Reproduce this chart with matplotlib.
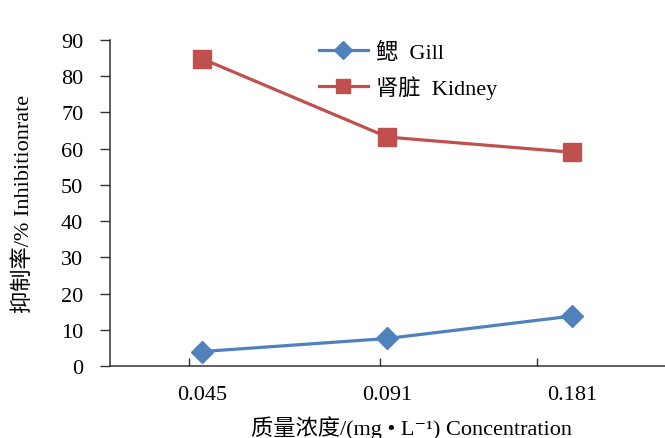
import numpy as np
import matplotlib.pyplot as plt

# concentration categories (mg/L) and inhibition rates (%)
concentrations = ["0.045", "0.091", "0.181"]
gill = [4.0, 7.6, 13.8]
kidney = [84.8, 63.2, 59.0]
y_ticks = [0, 10, 20, 30, 40, 50, 60, 70, 80, 90]

plt.rcParams["font.family"] = ["Liberation Serif", "Noto Sans CJK SC", "DejaVu Serif"]

fig = plt.figure(figsize=(6.65, 4.39), dpi=100)
ax = fig.add_axes([0.1654, 0.164, 0.8346, 0.7426])

x = np.arange(len(concentrations))
ax.plot(x, gill, color="#4F81BD", lw=2.3, marker="D", ms=11, label="鳃  Gill")
ax.plot(x, kidney, color="#C0504D", lw=2.3, marker="s", ms=13, label="肾脏  Kidney")

ax.set_xlim(-0.5, 2.5)
ax.set_ylim(0, 90)
ax.set_yticks(y_ticks)

# category labels at the points, tick marks where the original has them
ax.set_xticks(x)
ax.set_xticklabels(concentrations, fontsize=16)
ax.tick_params(axis="x", length=0, pad=14)
ax.set_xticks([-0.075, 0.962, 1.806], minor=True)
ax.tick_params(axis="x", which="minor", direction="in", length=6, width=1, color="#333333")
ax.tick_params(axis="y", direction="out", length=7.2, width=1, color="#333333",
               labelsize=16, pad=12)

for s in ["top", "right"]:
    ax.spines[s].set_visible(False)
for s in ["left", "bottom"]:
    ax.spines[s].set_color("#333333")
    ax.spines[s].set_linewidth(1.1)

ax.set_xlabel("质量浓度/(mg • L⁻¹) Concentration", fontsize=16)
ax.xaxis.set_label_coords(0.544, -0.152)
ax.set_ylabel("抑制率/% Inhibitionrate", fontsize=16)
ax.yaxis.set_label_coords(-0.137, 0.5)

ax.legend(loc="upper left", bbox_to_anchor=(0.34, 1.055), frameon=False,
          fontsize=16, handlelength=2.2, labelspacing=0.55, handletextpad=0.4,
          markerscale=0.8)

fig.savefig("out.png", dpi=100)
